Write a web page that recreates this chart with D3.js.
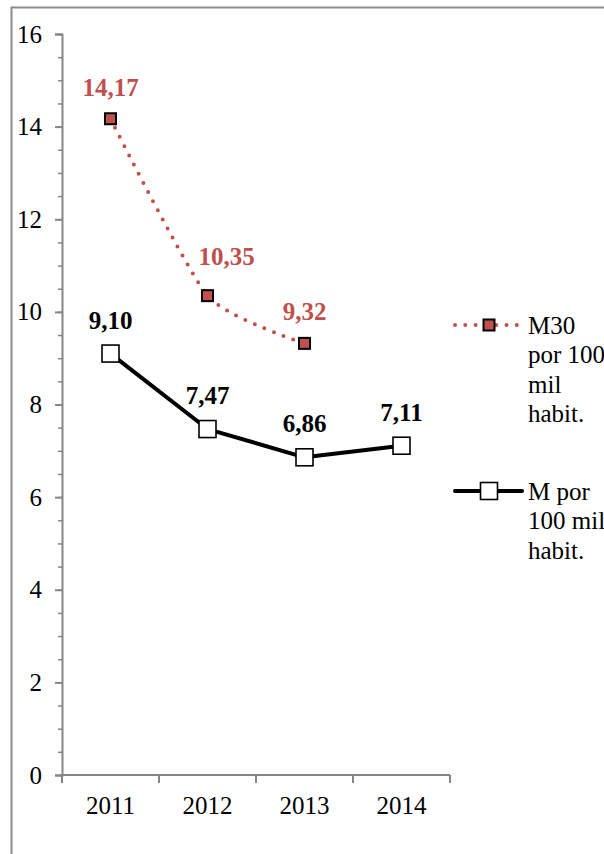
<!DOCTYPE html>
<html>
<head>
<meta charset="utf-8">
<script src="https://cdn.jsdelivr.net/npm/d3@7"></script>
<style>
  html, body { margin: 0; padding: 0; background: #fff; }
  svg { display: block; }
  svg text { font-family: "Liberation Serif", "Times New Roman", Times, serif; }
</style>
</head>
<body>
<svg id="chart" width="604" height="854"></svg>
<script>
// Years on the category axis
const years = ["2011", "2012", "2013", "2014"];
// M30 per 100 thousand inhabitants (no value for 2014)
const m30Values = [14.17, 10.35, 9.32, null];
// M per 100 thousand inhabitants
const mValues = [9.10, 7.47, 6.86, 7.11];
// Value-axis labels
const yTicks = [0, 2, 4, 6, 8, 10, 12, 14, 16];
// Legend entries
const m30Legend = ["M30", "por 100", "mil", "habit."];
const mLegend = ["M por", "100 mil", "habit."];

const red = "#c0504d";
const axisGrey = "#868686";
const fontSize = 25;
const serif = "'Liberation Serif', 'Times New Roman', Times, serif";

const svg = d3.select("#chart");

// Outer chart frame
svg.append("path")
  .attr("d", "M11.5,860V7.5H610")
  .attr("fill", "none")
  .attr("stroke", "#8c8c8c")
  .attr("stroke-width", 2);

const x = d3.scaleBand().domain(years).range([62, 450]).padding(0);
const y = d3.scaleLinear().domain([0, 16]).range([775, 34]);
const cx = d => x(d) + x.bandwidth() / 2;

// Minor y ticks every 0.5
const minor = d3.range(0, 16.01, 0.5);
const yMinor = svg.append("g")
  .attr("transform", "translate(62,0)")
  .call(d3.axisLeft(y).tickValues(minor).tickSize(4).tickFormat(""));
yMinor.select(".domain").remove();
yMinor.selectAll("line").attr("stroke", axisGrey).attr("stroke-width", 1.5);

// Major y axis
const yAxis = svg.append("g")
  .attr("transform", "translate(62,0)")
  .call(d3.axisLeft(y).tickValues(yTicks).tickSize(7).tickPadding(13).tickFormat(d3.format("d")));
yAxis.attr("font-family", serif).attr("font-size", fontSize);
yAxis.select(".domain").attr("stroke", axisGrey).attr("stroke-width", 2);
yAxis.selectAll("line").attr("stroke", axisGrey).attr("stroke-width", 2);
yAxis.selectAll("text")
  .attr("fill", "#000")
  .attr("font-family", serif)
  .attr("font-size", fontSize);

// X axis: line plus boundary ticks between categories
const xAxis = svg.append("g").attr("transform", "translate(0,775)");
xAxis.append("line")
  .attr("x1", 62).attr("x2", 450)
  .attr("stroke", axisGrey).attr("stroke-width", 2);
const bounds = years.map(d => x(d)).concat([x.range()[1]]);
xAxis.selectAll(".xt").data(bounds).join("line")
  .attr("x1", d => d).attr("x2", d => d)
  .attr("y1", 0).attr("y2", 8)
  .attr("stroke", axisGrey).attr("stroke-width", 2);
xAxis.selectAll(".xl").data(years).join("text")
  .attr("x", d => cx(d))
  .attr("y", 38.5)
  .attr("text-anchor", "middle")
  .attr("font-family", serif)
  .attr("font-size", fontSize)
  .text(d => d);

// M30 series: smoothed dotted red line
const m30Pts = years.map((d, i) => ({ year: d, v: m30Values[i] })).filter(p => p.v != null);
const smooth = d3.line().x(p => cx(p.year)).y(p => y(p.v)).curve(d3.curveCardinal.tension(0.4));
svg.append("path")
  .datum(m30Pts)
  .attr("d", smooth)
  .attr("fill", "none")
  .attr("stroke", red)
  .attr("stroke-width", 4)
  .attr("stroke-linecap", "round")
  .attr("stroke-dasharray", "0 10.3");

// M series: solid black line
const mPts = years.map((d, i) => ({ year: d, v: mValues[i] }));
const straight = d3.line().x(p => cx(p.year)).y(p => y(p.v));
svg.append("path")
  .datum(mPts)
  .attr("d", straight)
  .attr("fill", "none")
  .attr("stroke", "#000")
  .attr("stroke-width", 4)
  .attr("stroke-linejoin", "round");

// Markers
svg.selectAll(".m30mk").data(m30Pts).join("rect")
  .attr("x", p => cx(p.year) - 5.5).attr("y", p => y(p.v) - 5.5)
  .attr("width", 11).attr("height", 11)
  .attr("fill", red).attr("stroke", "#000").attr("stroke-width", 2);
svg.selectAll(".mmk").data(mPts).join("rect")
  .attr("x", p => cx(p.year) - 8.5).attr("y", p => y(p.v) - 8.5)
  .attr("width", 17).attr("height", 17)
  .attr("fill", "#fff").attr("stroke", "#000").attr("stroke-width", 1.6);

// Data labels
const fmt = v => v.toFixed(2).replace(".", ",");
const m30Nudge = { "2012": [19, -31] };
svg.selectAll(".m30lb").data(m30Pts).join("text")
  .attr("x", p => cx(p.year) + (m30Nudge[p.year] ? m30Nudge[p.year][0] : 0))
  .attr("y", p => y(p.v) + (m30Nudge[p.year] ? m30Nudge[p.year][1] : -23))
  .attr("text-anchor", "middle")
  .attr("fill", red)
  .attr("font-weight", "bold")
  .attr("font-family", serif)
  .attr("font-size", fontSize)
  .text(p => fmt(p.v));
svg.selectAll(".mlb").data(mPts).join("text")
  .attr("x", p => cx(p.year))
  .attr("y", p => y(p.v) - 25)
  .attr("text-anchor", "middle")
  .attr("fill", "#000")
  .attr("font-weight", "bold")
  .attr("font-family", serif)
  .attr("font-size", fontSize)
  .text(p => fmt(p.v));

// Legend
const lg = svg.append("g");
const lineH = 29.5;
function legendEntry(cyRow, lines, drawKey) {
  drawKey(cyRow);
  lg.selectAll(null).data(lines).join("text")
    .attr("x", 528)
    .attr("y", (d, i) => cyRow + 8.5 + i * lineH)
    .attr("font-family", serif)
    .attr("font-size", fontSize)
    .text(d => d);
}
legendEntry(325, m30Legend, cyRow => {
  lg.append("line")
    .attr("x1", 455).attr("x2", 522).attr("y1", cyRow).attr("y2", cyRow)
    .attr("stroke", red).attr("stroke-width", 4)
    .attr("stroke-linecap", "round").attr("stroke-dasharray", "0 10.3");
  lg.append("rect")
    .attr("x", 489 - 5.5).attr("y", cyRow - 5.5).attr("width", 11).attr("height", 11)
    .attr("fill", red).attr("stroke", "#000").attr("stroke-width", 2);
});
legendEntry(491, mLegend, cyRow => {
  lg.append("line")
    .attr("x1", 455).attr("x2", 522).attr("y1", cyRow).attr("y2", cyRow)
    .attr("stroke", "#000").attr("stroke-width", 4).attr("stroke-linecap", "round");
  lg.append("rect")
    .attr("x", 489 - 8.5).attr("y", cyRow - 8.5).attr("width", 17).attr("height", 17)
    .attr("fill", "#fff").attr("stroke", "#000").attr("stroke-width", 1.6);
});
</script>
</body>
</html>
